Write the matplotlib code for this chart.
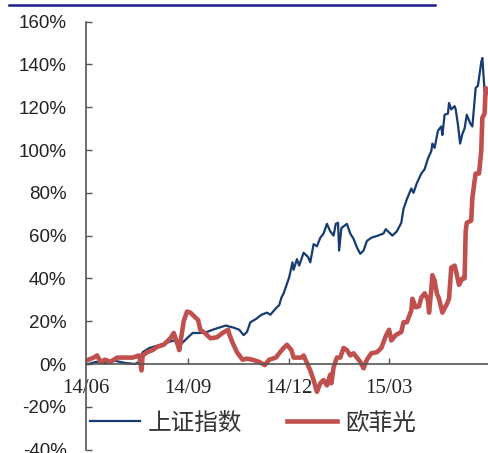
import matplotlib
matplotlib.use("Agg")
import matplotlib.pyplot as plt
import matplotlib.dates as mdates
import pandas as pd
from matplotlib.lines import Line2D

plt.rcParams['font.family'] = ['Liberation Sans', 'Noto Sans CJK SC', 'DejaVu Sans']

# 上证指数 cumulative return (%)
sh_dates = [
    '2014-06-03', '2014-06-10', '2014-06-18', '2014-06-27', '2014-07-06', '2014-07-15',
    '2014-07-19', '2014-07-22', '2014-07-28', '2014-08-07', '2014-08-13', '2014-08-19',
    '2014-08-25', '2014-09-01', '2014-09-05', '2014-09-12', '2014-09-18', '2014-09-23',
    '2014-09-29', '2014-10-05', '2014-10-08', '2014-10-12', '2014-10-17', '2014-10-21',
    '2014-10-24', '2014-10-27', '2014-11-01', '2014-11-06', '2014-11-11', '2014-11-14',
    '2014-11-19', '2014-11-22', '2014-11-24', '2014-11-26', '2014-11-28', '2014-12-01',
    '2014-12-04', '2014-12-05', '2014-12-08', '2014-12-10', '2014-12-14', '2014-12-18',
    '2014-12-20', '2014-12-23', '2014-12-26', '2014-12-29', '2015-01-01', '2015-01-04',
    '2015-01-07', '2015-01-10', '2015-01-12', '2015-01-14', '2015-01-15', '2015-01-17',
    '2015-01-22', '2015-01-25', '2015-01-28', '2015-01-31', '2015-02-03', '2015-02-06',
    '2015-02-09', '2015-02-13', '2015-02-19', '2015-02-24', '2015-02-26', '2015-03-01',
    '2015-03-04', '2015-03-08', '2015-03-12', '2015-03-14', '2015-03-17', '2015-03-21',
    '2015-03-23', '2015-03-26', '2015-03-30', '2015-04-02', '2015-04-05', '2015-04-08',
    '2015-04-09', '2015-04-11', '2015-04-14', '2015-04-17', '2015-04-18', '2015-04-20',
    '2015-04-23', '2015-04-24', '2015-04-26', '2015-04-29', '2015-04-30', '2015-05-02',
    '2015-05-04', '2015-05-06', '2015-05-08', '2015-05-10', '2015-05-13', '2015-05-15',
    '2015-05-18', '2015-05-20', '2015-05-23', '2015-05-24', '2015-05-26', '2015-05-27',
    '2015-05-29',
]
sh_values = [
    0, 1, 0.5, 1.5, 0.5, 0,
    1, 5.5, 7.5, 9, 10, 11,
    9, 12.5, 14.5, 14.5, 15, 16,
    17, 18, 17.5, 17, 16, 13.5,
    15, 19.5, 21, 23, 24, 23,
    26, 27.5, 31, 33, 36, 40.5,
    47.5, 44, 49, 46, 52, 50,
    47.5, 56, 55, 59, 61, 65.5,
    62, 60, 65.5, 66, 53, 63.5,
    65.5, 61, 58.5, 54.5, 51.5, 53,
    57.5, 59, 60, 61, 63, 61.5,
    60, 62, 66, 72.5, 77, 82,
    80, 84.5, 89, 91, 96, 99.5,
    103, 101, 109, 111, 107, 116.5,
    117, 122, 119, 120.5, 119, 112,
    103, 107.5, 110, 116.5, 112.5, 111,
    129, 130, 141, 143, 127.5, 126.5,
    128,
]

# 欧菲光 cumulative return (%)
ofg_dates = [
    '2014-06-03', '2014-06-08', '2014-06-11', '2014-06-14', '2014-06-18', '2014-06-23',
    '2014-06-29', '2014-07-04', '2014-07-13', '2014-07-19', '2014-07-21', '2014-07-22',
    '2014-07-26', '2014-07-31', '2014-08-04', '2014-08-10', '2014-08-16', '2014-08-19',
    '2014-08-22', '2014-08-24', '2014-08-28', '2014-08-31', '2014-09-03', '2014-09-07',
    '2014-09-10', '2014-09-12', '2014-09-16', '2014-09-21', '2014-09-27', '2014-10-02',
    '2014-10-07', '2014-10-08', '2014-10-11', '2014-10-15', '2014-10-20', '2014-10-24',
    '2014-10-29', '2014-11-04', '2014-11-09', '2014-11-13', '2014-11-19', '2014-11-22',
    '2014-11-26', '2014-11-29', '2014-12-03', '2014-12-05', '2014-12-12', '2014-12-14',
    '2014-12-17', '2014-12-20', '2014-12-23', '2014-12-26', '2014-12-29', '2015-01-01',
    '2015-01-04', '2015-01-07', '2015-01-08', '2015-01-10', '2015-01-13', '2015-01-16',
    '2015-01-19', '2015-01-22', '2015-01-25', '2015-01-28', '2015-01-31', '2015-02-03',
    '2015-02-06', '2015-02-09', '2015-02-13', '2015-02-18', '2015-02-22', '2015-02-26',
    '2015-03-01', '2015-03-03', '2015-03-07', '2015-03-12', '2015-03-14', '2015-03-17',
    '2015-03-21', '2015-03-22', '2015-03-25', '2015-03-28', '2015-03-30', '2015-04-02',
    '2015-04-05', '2015-04-06', '2015-04-08', '2015-04-09', '2015-04-11', '2015-04-13',
    '2015-04-15', '2015-04-18', '2015-04-22', '2015-04-24', '2015-04-26', '2015-04-29',
    '2015-04-30', '2015-05-03', '2015-05-06', '2015-05-08', '2015-05-09', '2015-05-10',
    '2015-05-14', '2015-05-15', '2015-05-17', '2015-05-18', '2015-05-21', '2015-05-23',
    '2015-05-24', '2015-05-26', '2015-05-27', '2015-05-29',
]
ofg_values = [
    2, 3, 4, 1, 2, 1,
    3, 3, 3, 4, -3, 4,
    5.5, 6.5, 8, 9, 12, 14.5,
    10, 6.5, 20, 24.5, 24, 22,
    20.5, 16, 14.5, 12, 12.5, 14.5,
    16, 14, 10, 5.5, 2, 2.5,
    2, 1, -0.5, 2, 3, 5,
    7.5, 9, 6.5, 3, 3, 4,
    0.5, -3, -7.5, -13, -9, -7.5,
    -10, -5, -9, -1.5, 3, 3,
    7.5, 6.5, 4, 5, 3, 1,
    -2, 2, 5, 5.5, 7.5, 13,
    16, 11, 13.5, 15, 19.5, 19.5,
    25, 30.5, 26.5, 27, 31, 33,
    30, 24, 34.5, 41.5, 39, 33,
    30.5, 24, 28, 30.5, 45, 46,
    44, 37, 40, 40, 62, 66,
    67, 77.5, 85.5, 89, 89, 99.5,
    115, 117, 129, 127,
]

x_ticks = ['2014-06-01', '2014-09-01', '2014-12-01', '2015-03-01']
y_ticks = [-40, -20, 0, 20, 40, 60, 80, 100, 120, 140, 160]

fig = plt.figure(figsize=(4.89, 4.53), dpi=100)
ax = fig.add_axes([0.1759, 0.0075, 0.8241, 0.9448])

ax.plot(pd.to_datetime(sh_dates), sh_values, color='#173b73', lw=1.6, label='上证指数')
ax.plot(pd.to_datetime(ofg_dates), ofg_values, color='#c0504d', lw=3.3, label='欧菲光')

ax.set_xlim(pd.Timestamp('2014-06-01'), pd.Timestamp('2015-05-30'))
ax.set_ylim(-40, 160)
ax.set_yticks(y_ticks)
ax.set_yticklabels([f'{v}%' for v in y_ticks])
ax.set_xticks(pd.to_datetime(x_ticks))
ax.xaxis.set_major_formatter(mdates.DateFormatter('%y/%m'))

for s in ['top', 'right']:
    ax.spines[s].set_visible(False)
ax.spines['bottom'].set_position(('data', 0))
for s in ['left', 'bottom']:
    ax.spines[s].set_color('#555555')
    ax.spines[s].set_linewidth(1.2)

ax.tick_params(axis='y', direction='in', length=4, width=1, color='#555555',
               labelsize=13.5, labelcolor='#222222', pad=14)
ax.tick_params(axis='x', direction='in', length=4, width=1, color='#555555',
               labelsize=15, labelcolor='#222222', pad=11)
for lbl in ax.get_xticklabels():
    lbl.set_fontfamily(['Liberation Serif', 'DejaVu Serif'])

leg = fig.legend(loc='center left', bbox_to_anchor=(0.184, 0.066), ncol=2,
                 frameon=False, borderpad=0, borderaxespad=0,
                 handlelength=2.1, handletextpad=0.35, columnspacing=1.9,
                 prop={'family': ['Noto Sans CJK SC'], 'size': 17})
for t in leg.get_texts():
    t.set_color('#333333')

# title underline (title itself is cut off at the top)
fig.add_artist(Line2D([9 / 489, 435 / 489], [1 - 4.5 / 453, 1 - 4.5 / 453],
                      transform=fig.transFigure, color='#1c1c8c', lw=1.8))

fig.savefig('out.png', dpi=100)
